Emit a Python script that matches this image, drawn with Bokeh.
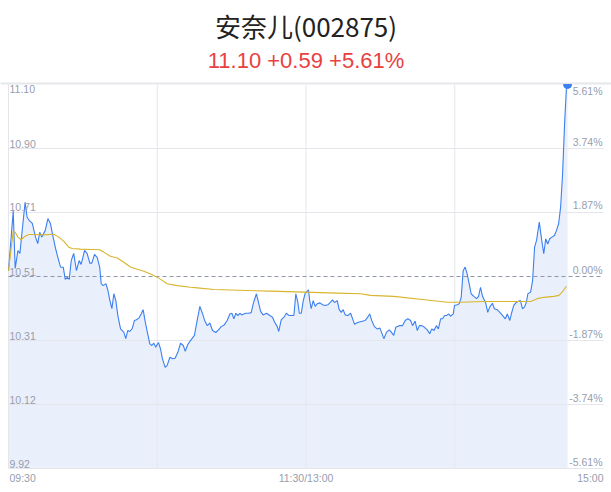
import math
from bokeh.plotting import figure
from bokeh.models import Range1d, Label
from bokeh.core.properties import value
from bokeh.embed import file_html
from bokeh.resources import INLINE

# ---------------- data ----------------
title_text = "安奈儿(002875)"
quote_text = "11.10 +0.59 +5.61%"
prev_close = 10.51
price_levels = [11.10, 10.9033, 10.7067, 10.51, 10.3133, 10.1167, 9.92]
price_labels = ["11.10", "10.90", "10.71", "10.51", "10.31", "10.12", "9.92"]
pct_labels = ["5.61%", "3.74%", "1.87%", "0.00%", "-1.87%", "-3.74%", "-5.61%"]
grid_minutes = [60, 120, 180]
time_tick_minutes = [0, 120, 240]
time_tick_labels = ["09:30", "11:30/13:00", "15:00"]

# minutes since 09:30 (trading time) and last price
minutes = [0, 1.9, 2.7, 3.8, 4.6, 5.4, 6.7, 7.5, 8.4, 9.6, 10.9, 11.8, 12.6, 13.4, 14.8, 15.9,
           16.9, 18.0, 19.0, 19.9, 21.0, 22.1, 22.9, 23.7, 24.5, 25.3, 26.3, 27.4, 28.5, 29.3,
           30.7, 31.7, 32.8, 33.6, 34.7, 35.8, 36.8, 37.4, 38.2, 39.3, 40.1, 40.9, 41.7, 42.5,
           43.3, 44.1, 45.2, 46.5, 47.3, 48.1, 48.9, 49.9, 50.8, 51.6, 52.7, 53.5, 54.3, 55.1,
           56.0, 57.0, 57.8, 58.6, 59.4, 60.5, 61.3, 62.1, 63.2, 64.0, 65.1, 66.2, 67.2, 68.3,
           69.4, 70.5, 71.3, 72.3, 73.4, 75.0, 76.1, 77.2, 78.3, 79.1, 80.2, 81.2, 82.3, 83.6,
           84.7, 85.8, 87.1, 88.2, 89.3, 90.1, 90.9, 91.7, 92.5, 93.3, 94.1, 94.9, 95.7, 96.8,
           97.9, 98.7, 100.0, 100.8, 101.7, 102.7, 104.1, 105.4, 106.5, 107.3, 108.4, 109.0,
           110.0, 111.1, 112.1, 113.2, 115.1, 115.9, 116.7, 117.3, 118.1, 118.9, 119.7, 120.5,
           121.0, 121.5, 122.1, 122.9, 123.7, 124.5, 125.6, 126.7, 127.7, 128.8, 129.9, 130.7,
           131.5, 132.6, 133.4, 134.2, 135.0, 135.8, 136.9, 138.0, 138.8, 139.6, 140.4, 141.5,
           143.9, 144.9, 145.7, 146.5, 147.6, 148.7, 149.8, 151.4, 152.5, 153.6, 154.4, 155.4,
           156.2, 157.6, 158.9, 160.0, 161.1, 162.2, 163.0, 164.0, 164.9, 165.7, 166.7, 167.8,
           168.9, 169.9, 170.7, 171.6, 172.6, 173.4, 174.3, 175.1, 175.9, 176.7, 177.5, 178.3,
           179.4, 179.9, 181.0, 181.8, 182.6, 183.4, 184.2, 185.0, 185.8, 186.6, 187.7, 188.8,
           189.6, 190.4, 191.2, 192.0, 192.5, 193.3, 194.1, 195.2, 196.0, 197.1, 198.2, 199.3,
           200.4, 201.2, 202.2, 203.0, 203.8, 204.9, 205.7, 206.5, 207.3, 208.1, 208.9, 209.5,
           210.6, 211.4, 212.2, 213.0, 214.1, 214.9, 215.9, 216.7, 217.5, 218.3, 219.2, 220.2,
           221.0, 221.9, 222.7, 223.5, 224.3, 225.1, 225.5]
prices = [10.528, 10.711, 10.535, 10.590, 10.581, 10.642, 10.738, 10.692, 10.682, 10.673, 10.631,
          10.611, 10.646, 10.631, 10.651, 10.688, 10.673, 10.631, 10.596, 10.569, 10.539, 10.538,
          10.501, 10.507, 10.501, 10.559, 10.581, 10.528, 10.559, 10.547, 10.590, 10.581, 10.551,
          10.551, 10.578, 10.568, 10.538, 10.488, 10.482, 10.488, 10.467, 10.436, 10.411, 10.457,
          10.436, 10.390, 10.349, 10.339, 10.319, 10.344, 10.341, 10.350, 10.375, 10.377, 10.383,
          10.395, 10.408, 10.373, 10.339, 10.303, 10.298, 10.305, 10.293, 10.307, 10.288, 10.257,
          10.231, 10.237, 10.262, 10.257, 10.259, 10.277, 10.305, 10.298, 10.280, 10.301, 10.313,
          10.329, 10.375, 10.418, 10.395, 10.375, 10.359, 10.367, 10.344, 10.338, 10.346, 10.356,
          10.362, 10.375, 10.395, 10.397, 10.380, 10.397, 10.390, 10.397, 10.392, 10.395, 10.397,
          10.397, 10.399, 10.426, 10.457, 10.431, 10.403, 10.392, 10.397, 10.390, 10.385, 10.370,
          10.356, 10.341, 10.377, 10.385, 10.397, 10.390, 10.390, 10.457, 10.431, 10.397, 10.397,
          10.436, 10.459, 10.465, 10.469, 10.436, 10.411, 10.436, 10.418, 10.426, 10.429, 10.423,
          10.421, 10.423, 10.431, 10.438, 10.430, 10.436, 10.408, 10.400, 10.408, 10.392, 10.390,
          10.397, 10.380, 10.363, 10.367, 10.370, 10.375, 10.385, 10.395, 10.375, 10.356, 10.349,
          10.352, 10.319, 10.339, 10.346, 10.339, 10.329, 10.354, 10.359, 10.359, 10.375, 10.380,
          10.375, 10.359, 10.373, 10.344, 10.359, 10.359, 10.354, 10.346, 10.334, 10.349, 10.344,
          10.359, 10.349, 10.380, 10.380, 10.390, 10.390, 10.395, 10.388, 10.395, 10.421, 10.423,
          10.426, 10.446, 10.528, 10.539, 10.518, 10.488, 10.457, 10.449, 10.442, 10.449, 10.477,
          10.449, 10.436, 10.428, 10.400, 10.416, 10.428, 10.411, 10.408, 10.400, 10.390, 10.380,
          10.395, 10.375, 10.400, 10.421, 10.431, 10.434, 10.436, 10.411, 10.416, 10.431, 10.457,
          10.462, 10.498, 10.600, 10.621, 10.677, 10.631, 10.580, 10.626, 10.610, 10.626, 10.631,
          10.636, 10.651, 10.672, 10.723, 10.826, 10.979, 11.097, 11.100]

# average price line
avg_minutes = [0, 1.9, 2.7, 3.8, 5.1, 6.5, 8.2, 10.2, 14.2, 18.3, 20.3, 22.3, 24.3, 25.7, 29.0,
               33.1, 36.8, 38.4, 41.1, 43.9, 46.5, 49.2, 51.9, 54.6, 57.3, 60.0, 62.0, 64.0, 68.1,
               73.4, 76.1, 82.8, 96.3, 105.7, 119.1, 132.6, 142.0, 146.0, 155.4, 168.9, 177.0,
               182.3, 191.7, 210.6, 213.3, 215.9, 220.0, 222.0, 223.3, 225.1]
avg_prices = [10.528, 10.649, 10.646, 10.631, 10.623, 10.633, 10.639, 10.639, 10.638, 10.640,
              10.631, 10.618, 10.600, 10.596, 10.594, 10.593, 10.592, 10.585, 10.572, 10.567,
              10.554, 10.539, 10.532, 10.526, 10.518, 10.508, 10.498, 10.488, 10.482, 10.477,
              10.475, 10.470, 10.467, 10.465, 10.462, 10.459, 10.457, 10.452, 10.449, 10.438,
              10.431, 10.431, 10.433, 10.433, 10.442, 10.446, 10.449, 10.452, 10.462, 10.480]

# ---------------- styles ----------------
BLUE = "#3b7ff0"
FILL = "#e9f0fc"
YELLOW = "#d8b52c"
GRID = "#e4e6ec"
LABEL = "#979dad"
TICK_FONT = value("Liberation Sans")

x_lo, x_hi = -3.227, 243.227   # whole canvas = frame
y_lo, y_hi = 9.8463, 11.3581
p = figure(width=611, height=492, x_range=Range1d(x_lo, x_hi), y_range=Range1d(y_lo, y_hi),
           output_backend="svg", toolbar_location=None, x_axis_type=None, y_axis_type=None,
           min_border=0, min_border_left=0, min_border_right=0, min_border_top=0,
           min_border_bottom=0)
p.outline_line_color = None
p.grid.visible = False
p.background_fill_color = "white"
p.border_fill_color = "white"

lo, hi = price_levels[-1], price_levels[0]

# area under price
p.varea(x=minutes, y1=lo, y2=prices, fill_color=FILL, fill_alpha=1.0)

# horizontal grid
grid_y = [v for v in price_levels if v not in (prev_close, hi)]
p.segment(x0=0, x1=240, y0=grid_y, y1=grid_y, line_color=GRID, line_width=1)
p.segment(x0=[x_lo], x1=[x_hi], y0=[hi + 0.003], y1=[hi + 0.003], line_color="#e6e7eb",
          line_width=2)
# vertical grid
p.segment(x0=grid_minutes, x1=grid_minutes, y0=lo, y1=hi, line_color=GRID, line_width=1)
p.segment(x0=[0], x1=[0], y0=lo, y1=hi, line_color=GRID, line_width=1)

# previous close dashed
p.segment(x0=[0], x1=[240], y0=[prev_close], y1=[prev_close], line_color="#8f97ab",
          line_width=1, line_dash="4 3")

# lines
p.line(minutes, prices, line_color=BLUE, line_width=1.1)
p.line(avg_minutes, avg_prices, line_color=YELLOW, line_width=1.1)
# last-price marker, cut by the chart's top edge (lower half only)
p.wedge(x=[minutes[-1]], y=[prices[-1]], radius=4, radius_units="screen",
        start_angle=math.pi, end_angle=2 * math.pi, color=BLUE)

# y labels
p.text(x=[0], y=[price_levels[0]], text=[price_labels[0]], text_font=TICK_FONT,
       text_font_size="10.5px", text_color=LABEL, text_align="left", text_baseline="top",
       x_offset=1, y_offset=1)
p.text(x=0, y=price_levels[1:], text=price_labels[1:], text_font=TICK_FONT,
       text_font_size="10.5px", text_color=LABEL, text_align="left", text_baseline="bottom",
       x_offset=1, y_offset=-1)
p.text(x=[240], y=[price_levels[0]], text=[pct_labels[0]], text_font=TICK_FONT,
       text_font_size="10.5px", text_color=LABEL, text_align="right", text_baseline="top",
       x_offset=-1, y_offset=1)
p.text(x=240, y=price_levels[1:], text=pct_labels[1:], text_font=TICK_FONT,
       text_font_size="10.5px", text_color=LABEL, text_align="right", text_baseline="bottom",
       x_offset=-1, y_offset=-1)

# x labels
aligns = ["left", "center", "right"]
for m, lab, al in zip(time_tick_minutes, time_tick_labels, aligns):
    p.text(x=[m], y=[lo], text=[lab], text_font=TICK_FONT, text_font_size="10.5px",
           text_color=LABEL, text_align=al, text_baseline="top", y_offset=3,
           x_offset=1 if al == "left" else 0)

# title & quote
p.add_layout(Label(x=120, y=11.2813, text=title_text, text_font="Noto Sans CJK SC",
                   text_font_size="26px", text_color="#222222", text_align="center",
                   text_baseline="middle"))
p.add_layout(Label(x=120, y=11.1737, text=quote_text, text_font="Liberation Sans",
                   text_font_size="22px", text_color="#e8413f", text_align="center",
                   text_baseline="middle"))

open("out.html", "w").write(file_html(p, INLINE))
